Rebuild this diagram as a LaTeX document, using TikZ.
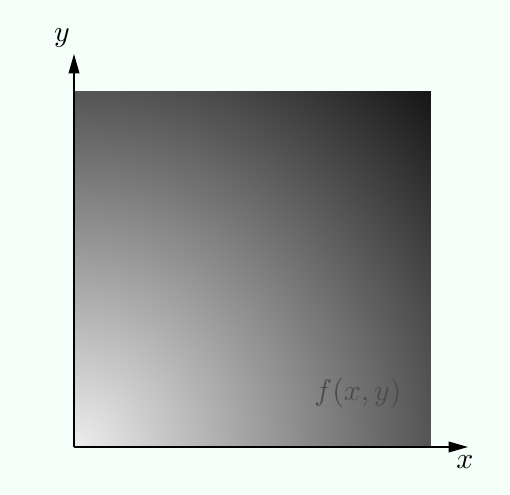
\documentclass[tikz,border=0pt]{standalone}
\usetikzlibrary{arrows.meta}

\definecolor{mintbg}{RGB}{245,255,250}
\definecolor{fadelight}{gray}{0.93}
\definecolor{fadedark}{gray}{0.08}
\pgfdeclareradialshading{cornerfade}{\pgfpointorigin}{color(0bp)=(fadelight); color(25bp)=(fadedark); color(50bp)=(fadedark)}

\begin{document}
\begin{tikzpicture}[x=0.335pt, y=0.335pt,
    axis/.style={line width=0.5pt, -{Triangle[length=6.5pt, width=3.6pt]}}]
  % Background
  \fill[mintbg] (0,0) rectangle (510,494);
  \useasboundingbox (0,0) rectangle (510,494);

  % Field corners
  \coordinate (O) at (74,47);
  \coordinate (TR) at (431,403);

  % Shaded field, lightest at the origin
  \begin{scope}
    \clip (O) rectangle (TR);
    \shade[shading=cornerfade] (O) circle (505);
  \end{scope}

  % Axes
  \coordinate (xtip) at (468,47);
  \coordinate (ytip) at (74,440);
  \draw[axis] (O) -- (xtip);
  \draw[axis] (O) -- (ytip);
  \node (xlab) at (465,32) {$x$};
  \node (ylab) at (62,456) {$y$};

  % Function label
  \node[text=black!70] (flab) at (358,101) {$f(x,y)$};
\end{tikzpicture}
\end{document}
